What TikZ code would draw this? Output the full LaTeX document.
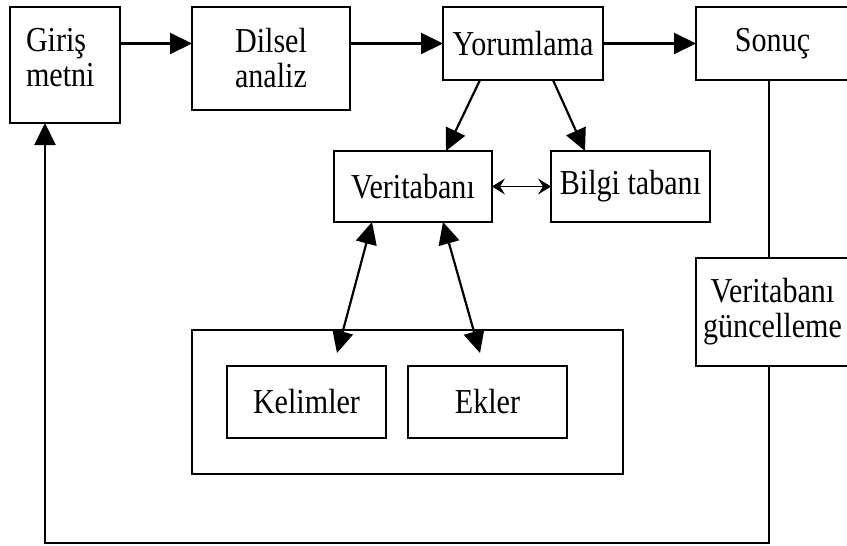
\documentclass[tikz,border=0pt]{standalone}
\usepackage{fontspec}
\setmainfont[FakeStretch=0.86]{Liberation Serif}
\usetikzlibrary{arrows.meta}

\begin{document}
\begin{tikzpicture}[x=1pt, y=-1pt,
  box/.style={draw, line width=2.2pt, inner sep=0pt, outer sep=0pt, align=center},
  txt/.style={inner sep=0pt, outer sep=0pt, align=left},
  arr/.style={line width=2.2pt, -{Triangle[length=22pt, width=21pt]}},
  darr/.style={line width=2.2pt, {Triangle[length=22pt, width=21pt]}-{Triangle[length=22pt, width=21pt]}},
  thinarr/.style={line width=1.2pt, {Stealth[length=13pt, width=16pt, inset=5pt]}-{Stealth[length=13pt, width=16pt, inset=5pt]}},
  wire/.style={line width=2pt},
  font=\fontsize{35}{35}\selectfont]

  \useasboundingbox (0,0) rectangle (847,546);
  \clip (0,0) rectangle (847,546);

  % main chain
  \node[box, minimum width=110pt, minimum height=116pt] (giris) at (65,65) {};
  \node[txt, anchor=west] (girisyazi) at (26,58) {Giriş\\metni};
  \node[box, minimum width=158pt, minimum height=103pt] (dilsel) at (271,58.5) {Dilsel\\analiz};
  \node[box, minimum width=160pt, minimum height=73pt] (yorum) at (523,43.5) {Yorumlama};
  \node[box, minimum width=153pt, minimum height=73pt] (sonuc) at (772.5,43.5) {Sonuç};

  % knowledge stores
  \node[box, minimum width=158pt, minimum height=71pt] (vt) at (413,186.5) {Veritabanı};
  \node[box, minimum width=159pt, minimum height=71pt] (bilgi) at (630.5,186.5) {Bilgi tabanı};

  % update step
  \node[box, minimum width=153pt, minimum height=108pt] (vg) at (772.5,312) {Veritabanı\\güncelleme};

  % lexicon
  \node[box, minimum width=431pt, minimum height=144pt] (kap) at (407.5,402) {};
  \node[box, minimum width=159pt, minimum height=72pt] (kel) at (306.5,402) {Kelimler};
  \node[box, minimum width=159pt, minimum height=72pt] (ekl) at (487.5,402) {Ekler};

  % connectors
  \draw[arr] (giris.east |- yorum.west) -- (dilsel.west |- yorum.west);
  \draw[arr] (dilsel.east |- yorum.west) -- (yorum.west);
  \draw[arr] (yorum.east) -- (sonuc.west);

  \draw[arr] ([xshift=37pt]yorum.south west) -- ([xshift=112pt]vt.north west);
  \draw[arr] ([xshift=110pt]yorum.south west) -- ([xshift=34pt]bilgi.north west);

  \draw[thinarr] (vt.east) -- (bilgi.west);

  \draw[darr] ([xshift=38pt]vt.south west) -- ([xshift=110pt, yshift=13pt]kel.north west);
  \draw[darr] ([xshift=109pt]vt.south west) -- ([xshift=72pt, yshift=13pt]ekl.north west);

  % feedback loop
  \draw[wire] ([xshift=-4pt]sonuc.south) -- ([xshift=-4pt]vg.north);
  \draw[wire, -{Triangle[length=22pt, width=21pt]}] ([xshift=-4pt]vg.south) -- ++(0,177) -| ([xshift=-20pt]giris.south);
\end{tikzpicture}
\end{document}
